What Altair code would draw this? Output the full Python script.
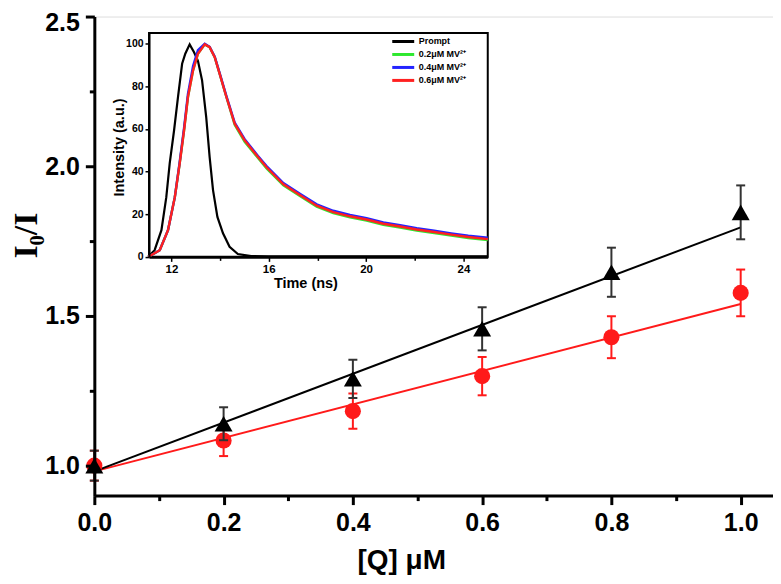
import altair as alt
import pandas as pd

# ---------------- main chart data ----------------
Q = [0.0, 0.2, 0.4, 0.6, 0.8, 1.0]
black_I = [1.0, 1.14, 1.29, 1.457, 1.646, 1.846]
black_err = [0.05, 0.055, 0.064, 0.072, 0.082, 0.09]
red_I = [1.0, 1.084, 1.182, 1.299, 1.429, 1.577]
red_err = [0.05, 0.052, 0.059, 0.064, 0.07, 0.078]
fit_Q = [0.0, 1.0]
black_fit = [0.981, 1.796]
red_fit = [0.981, 1.54]
x_ticks = [0.0, 0.1, 0.2, 0.3, 0.4, 0.5, 0.6, 0.7, 0.8, 0.9, 1.0]
y_ticks = [1.0, 1.25, 1.5, 1.75, 2.0, 2.25, 2.5]

# ---------------- inset data ----------------
t_prompt = [11.04, 11.31, 11.59, 11.79, 11.93, 12.11, 12.27, 12.44, 12.57, 12.75, 12.93, 13.09,
            13.26, 13.43, 13.57, 13.71, 13.89, 14.12, 14.39, 14.73, 15.28, 16.0, 18.0, 20.0, 22.0, 25.0]
I_prompt = [0, 3.1, 12.5, 28, 43.8, 59.4, 75, 90.6, 95.3, 99.7, 96, 92,
            82.8, 65.6, 46.9, 31.3, 18.7, 11, 4.7, 1.3, 0.3, 0.2, 0.2, 0.2, 0.2, 0.2]
t_decay = [11.06, 11.52, 11.86, 12.14, 12.34, 12.52, 12.68, 12.89, 13.09, 13.37, 13.57, 13.78,
           13.98, 14.26, 14.6, 15.01, 15.55, 15.91, 16.6, 17.28, 17.97, 18.65, 19.34, 20.02,
           20.71, 21.4, 22.08, 22.8, 23.5, 24.2, 25.0]
I_green = [0, 3.1, 12.5, 28, 43.8, 59.4, 75, 87.5, 95.3, 99.7, 98.4, 93.7,
           86, 75, 62, 54, 46.5, 41.5, 33.5, 28.5, 23.5, 20.5, 18.5, 17,
           15, 13.7, 12.3, 11.1, 9.9, 8.8, 7.8]
I_blue = [0, 3.1, 12.5, 28, 44.5, 60.5, 76.5, 89.5, 97, 100, 98.6, 93.9,
          86.3, 75.4, 63, 55.2, 47.4, 42.6, 34.6, 29.6, 24.6, 21.6, 19.6, 18.1,
          16.1, 14.8, 13.4, 12.2, 11, 9.9, 8.9]
I_red = [0, 3.1, 12.5, 28, 43.8, 59.4, 75, 87.5, 95.3, 99.7, 98.4, 93.7,
         86, 75, 62.5, 54.7, 46.9, 42, 34, 29, 24, 21, 19, 17.5,
         15.5, 14.2, 12.8, 11.6, 10.4, 9.3, 8.3]
series_names = ["Prompt", "0.2\u03bcM MV\u00b2\u207a", "0.4\u03bcM MV\u00b2\u207a", "0.6\u03bcM MV\u00b2\u207a"]
series_colors = ["black", "#2ee82e", "#2323ff", "#ff2020"]
inset_t_range = [11.08, 25.0]
inset_I_range = [0, 105]
inset_x_ticks = [12, 14, 16, 18, 20, 22, 24]
inset_y_ticks = [0, 20, 40, 60, 80, 100]

RED = "#ff1a1a"
SANS = "Liberation Sans"

# ---------------- main chart ----------------
def series_df(vals, errs):
    return pd.DataFrame({"Q": Q, "I": vals,
                         "lo": [v - e for v, e in zip(vals, errs)],
                         "hi": [v + e for v, e in zip(vals, errs)]})

black_df = series_df(black_I, black_err)
red_df = series_df(red_I, red_err)
bfit_df = pd.DataFrame({"Q": fit_Q, "I": black_fit})
rfit_df = pd.DataFrame({"Q": fit_Q, "I": red_fit})

x_axis = alt.Axis(
    values=x_ticks,
    labelExpr="round(datum.value*10)%2==0 ? format(datum.value,'.1f') : ''",
    tickSize={"condition": {"test": "round(datum.value*10)%2==0", "value": 9}, "value": 5},
    tickWidth=3, tickColor="black", domainWidth=3, domainColor="black",
    labelFont=SANS, labelFontWeight="bold", labelFontSize=25, labelColor="black",
    labelPadding=6, labelFlush=False, labelOverlap=False, labelBound=False,
    title="[Q] \u03bcM", titleFont=SANS, titleFontWeight="bold", titleFontSize=28,
    titleColor="black", titleX=307.5, titleY=73, titleBaseline="alphabetic",
    titleAlign="center", grid=False, zindex=1,
)
y_axis = alt.Axis(
    values=y_ticks,
    labelExpr="round(datum.value*4)%2==0 ? format(datum.value,'.1f') : ''",
    tickSize={"condition": {"test": "round(datum.value*4)%2==0", "value": 9}, "value": 5},
    labelOffset={"condition": {"test": "datum.value >= 2.49", "value": 6}, "value": 0},
    tickWidth=3, tickColor="black", domainWidth=3, domainColor="black",
    labelFont=SANS, labelFontWeight="bold", labelFontSize=25, labelColor="black",
    labelPadding=6, labelFlush=False, labelOverlap=False, labelBound=False,
    title="I\u2080/I", titleFont="Liberation Serif", titleFontWeight="bold", titleFontSize=34,
    titleColor="black", titleX=-68, titleY=219, titleAngle=-90, titleAlign="center",
    titleBaseline="middle", grid=False, zindex=1,
)
xs = alt.Scale(domain=[0, 1.05], nice=False, zero=False)
ys = alt.Scale(domain=[0.9, 2.5], nice=False, zero=False)
X = alt.X("Q:Q", scale=xs, axis=x_axis)
Y = alt.Y("I:Q", scale=ys, axis=y_axis)

def series_layers(df, fit_df, color, cap_color, shape, size):
    line = alt.Chart(fit_df).mark_line(color=color, strokeWidth=2).encode(x=X, y=Y)
    rule = alt.Chart(df).mark_rule(color=cap_color, strokeWidth=2).encode(
        x=X, y=alt.Y("lo:Q", scale=ys, axis=y_axis), y2="hi:Q")
    cap_lo = alt.Chart(df).mark_tick(orient="horizontal", color=cap_color, size=9,
                                     thickness=2, opacity=1).encode(
        x=X, y=alt.Y("lo:Q", scale=ys, axis=y_axis))
    cap_hi = alt.Chart(df).mark_tick(orient="horizontal", color=cap_color, size=9,
                                     thickness=2, opacity=1).encode(
        x=X, y=alt.Y("hi:Q", scale=ys, axis=y_axis))
    pts = alt.Chart(df).mark_point(shape=shape, filled=True, color=color, size=size,
                                   opacity=1).encode(x=X, y=Y)
    return [line, rule, cap_lo, cap_hi, pts]

red_layers = series_layers(red_df, rfit_df, RED, RED, "circle", 260)
black_layers = series_layers(black_df, bfit_df, "black", "#333333", "triangle-up", 324)
main = alt.layer(red_layers[0], black_layers[0], *red_layers[1:], *black_layers[1:])

# ---------------- inset ----------------
ixs = alt.Scale(domain=inset_t_range, range=[54.8, 394.2], nice=False, zero=False)
iys = alt.Scale(domain=inset_I_range, range=[240.7, 16.6], nice=False, zero=False)
ix_axis = alt.Axis(
    orient="bottom", offset=-238.7, values=inset_x_ticks,
    labelExpr="datum.value%4==0 ? datum.value : ''",
    tickSize={"condition": {"test": "datum.value%4==0", "value": 4}, "value": 3},
    tickWidth=1.5, tickColor="black", domainWidth=2, domainColor="black",
    labelFont=SANS, labelFontWeight="bold", labelFontSize=11.5, labelColor="black",
    labelPadding=2, labelFlush=False, labelOverlap=False, labelBound=False,
    title="Time (ns)", titleFont=SANS, titleFontWeight="bold", titleFontSize=14.5,
    titleColor="black", titleX=211.5, titleY=30.5, titleBaseline="alphabetic",
    titleAlign="center", grid=False, zindex=1,
)
iy_axis = alt.Axis(
    orient="left", offset=-54.8, values=inset_y_ticks,
    tickSize=4, tickWidth=1.5, tickColor="black", domainWidth=2, domainColor="black",
    labelFont=SANS, labelFontWeight="bold", labelFontSize=10.5, labelColor="black",
    labelPadding=2, labelFlush=False, labelOverlap=False, labelBound=False,
    title="Intensity (a.u.)", titleFont=SANS, titleFontWeight="bold", titleFontSize=14.5,
    titleColor="black", titleX=-29.3, titleY=130.7, titleAngle=-90, titleAlign="center",
    titleBaseline="middle", grid=False, zindex=1,
)
IX = alt.X("t:Q", scale=ixs, axis=ix_axis)
IY = alt.Y("v:Q", scale=iys, axis=iy_axis)
color_enc = alt.Color(
    "series:N",
    scale=alt.Scale(domain=series_names, range=series_colors),
    legend=alt.Legend(
        title=None, orient="none", legendX=304, legendY=19.5, direction="vertical",
        symbolType="M-2.75,0H2.75", symbolSize=64, symbolStrokeWidth=3,
        symbolFillColor="transparent", padding=0,
        rowPadding=0, labelFont=SANS, labelFontWeight="bold", labelFontSize=9,
        labelColor="black", labelOffset=10, labelLimit=200,
    ),
)

frame_df = pd.DataFrame({"t": [inset_t_range[0]], "t2": [inset_t_range[1]],
                         "v": [inset_I_range[0]], "v2": [inset_I_range[1]]})
frame = alt.Chart(frame_df).mark_rect(fill="white", stroke="black", strokeWidth=2).encode(
    x=IX, x2="t2:Q", y=IY, y2="v2:Q")

def inset_line(ts, vals, name, width):
    df = pd.DataFrame({"t": ts, "v": vals, "series": name})
    return alt.Chart(df).mark_line(strokeWidth=width, clip=False).encode(
        x=IX, y=IY, color=color_enc)

inset = alt.layer(
    frame,
    inset_line(t_prompt, I_prompt, series_names[0], 2.2),
    inset_line(t_decay, I_green, series_names[1], 2.4),
    inset_line(t_decay, I_blue, series_names[2], 2.4),
    inset_line(t_decay, I_red, series_names[3], 2.4),
)

chart = (
    alt.layer(main, inset)
    .resolve_scale(x="independent", y="independent")
    .properties(
        width=680, height=480,
        autosize=alt.AutoSizeParams(type="none"),
        padding={"left": 86.5, "top": 8, "right": 0, "bottom": 80},
        background="white",
    )
    .configure_view(stroke="black", strokeWidth=3)
    .configure(font=SANS)
)

chart.save("out.html", embed_options={"renderer": "svg", "actions": False})
